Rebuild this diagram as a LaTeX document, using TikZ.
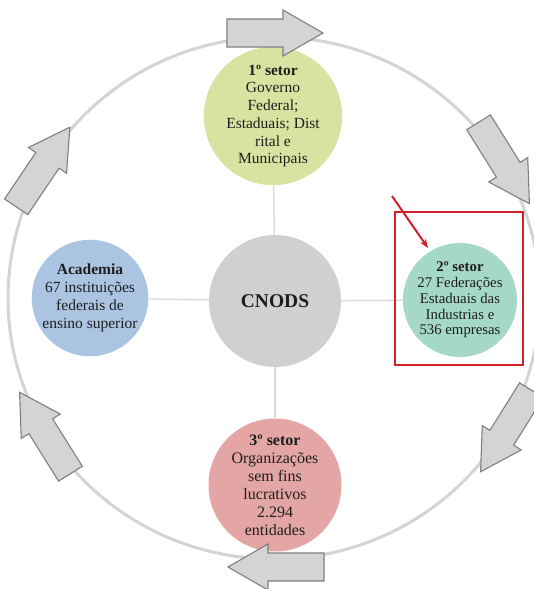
\documentclass[tikz,border=0pt]{standalone}
\usepackage{fontspec}
\setmainfont{Liberation Serif}
\usetikzlibrary{arrows.meta}
\definecolor{ringgray}{HTML}{D4D4D4}
\definecolor{arrowfill}{HTML}{D4D4D4}
\definecolor{arrowline}{HTML}{7F7F7F}
\definecolor{topfill}{HTML}{D7E4A1}
\definecolor{leftfill}{HTML}{AAC4E2}
\definecolor{rightfill}{HTML}{A5D9C5}
\definecolor{botfill}{HTML}{E4A5A5}
\definecolor{cenfill}{HTML}{D0D0D0}
\definecolor{linkgray}{HTML}{D9D9D6}
\definecolor{txt}{HTML}{1E1E1E}
\definecolor{boxred}{HTML}{D0202A}
\tikzset{
  x=1pt,y=1pt,
  sector/.style={circle,inner sep=0pt,minimum size=114,align=center,text=txt},
  link/.style={draw=linkgray,line width=1.3},
  blockarrow/.style={fill=arrowfill,draw=arrowline,line width=1.1,line join=miter},
}
\newcommand{\blockarr}[3]{%
  \begin{scope}[shift={(#1,#2)},rotate=#3]
    \draw[blockarrow] (-48,-14) -- (8,-14) -- (8,-23) -- (48,0) -- (8,23) -- (8,14) -- (-48,14) -- cycle;
  \end{scope}}
\begin{document}
\begin{tikzpicture}
\useasboundingbox (0,0) rectangle (533,-589);
\fill[white] (0,0) rectangle (533,-589);
% ring
\draw[ringgray,line width=3] (274,-298) ellipse [x radius=266, y radius=261];
% nodes
\node[sector,fill=cenfill,minimum size=132,font=\fontsize{19.5}{22}\selectfont\bfseries] (cen) at (275,-301) {CNODS};
\node[sector,fill=topfill,minimum size=112,font=\fontsize{15.5}{17.7}\selectfont] (top) at (273,-116)
  {\textbf{1º setor}\\Governo\\Federal;\\Estaduais; Dist\\rital e\\Municipais};
\node[sector,fill=leftfill,font=\fontsize{15.5}{18}\selectfont] (left) at (90,-298)
  {\textbf{Academia}\\67 instituições\\federais de\\ensino superior};
\node[sector,fill=rightfill,font=\fontsize{14.8}{15.8}\selectfont] (right) at (460,-300)
  {\textbf{2º setor}\\27 Federações\\Estaduais das\\Industrias e\\536 empresas};
\node[sector,fill=botfill,minimum size=116,font=\fontsize{16}{18}\selectfont] (bot) at (275,-485)
  {\textbf{3º setor}\\Organizações\\sem fins\\lucrativos\\2.294\\entidades};
% links
\draw[link] (top) -- (cen);
\draw[link] (left) -- (cen);
\draw[link] (right) -- (cen);
\draw[link] (bot) -- (cen);
% block arrows
\blockarr{275}{-33}{0}
\blockarr{504}{-163}{-58}
\blockarr{506}{-431}{-122}
\blockarr{276}{-567}{180}
\blockarr{45}{-433}{122}
\blockarr{43}{-167}{56}
% red highlight
\draw[boxred,line width=2] (395,-212) rectangle (523,-365);
\coordinate (rs) at (392,-196);
\coordinate (re) at (428,-248);
\draw[boxred,line width=2,-{Stealth[length=9pt,width=7pt]}] (rs) -- (re);
\end{tikzpicture}
\end{document}
